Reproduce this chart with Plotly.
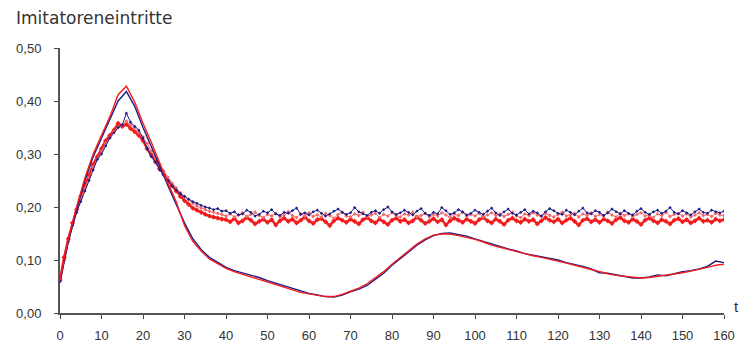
import plotly.graph_objects as go

# Time axis
t_fine = list(range(0, 161))          # step 1
t_coarse = list(range(0, 161, 2))     # step 2

# Scenario A: strong first wave, decay, second wave (step 2)
a_blue = [0.058, 0.135, 0.195, 0.250, 0.295, 0.330, 0.365, 0.400, 0.418, 0.390,
          0.350, 0.315, 0.278, 0.240, 0.205, 0.170, 0.140, 0.120, 0.105, 0.095,
          0.086, 0.080, 0.076, 0.071, 0.067, 0.061, 0.056, 0.051, 0.046, 0.041,
          0.037, 0.034, 0.031, 0.030, 0.034, 0.040, 0.045, 0.052, 0.063, 0.075,
          0.090, 0.102, 0.115, 0.128, 0.138, 0.146, 0.150, 0.151, 0.148, 0.145,
          0.140, 0.135, 0.130, 0.125, 0.121, 0.117, 0.112, 0.109, 0.106, 0.104,
          0.100, 0.095, 0.092, 0.088, 0.083, 0.076, 0.075, 0.072, 0.070, 0.066,
          0.066, 0.068, 0.072, 0.070, 0.074, 0.078, 0.080, 0.083, 0.088, 0.098,
          0.095]
a_red = [0.062, 0.140, 0.200, 0.255, 0.300, 0.335, 0.370, 0.412, 0.428, 0.398,
         0.358, 0.322, 0.283, 0.245, 0.210, 0.165, 0.135, 0.117, 0.102, 0.093,
         0.084, 0.078, 0.073, 0.069, 0.064, 0.058, 0.053, 0.048, 0.044, 0.039,
         0.036, 0.033, 0.031, 0.031, 0.035, 0.041, 0.047, 0.055, 0.066, 0.078,
         0.092, 0.105, 0.118, 0.130, 0.140, 0.147, 0.149, 0.149, 0.146, 0.143,
         0.139, 0.134, 0.128, 0.124, 0.120, 0.115, 0.111, 0.108, 0.105, 0.102,
         0.098, 0.094, 0.090, 0.086, 0.081, 0.077, 0.074, 0.071, 0.069, 0.067,
         0.066, 0.067, 0.069, 0.071, 0.073, 0.076, 0.079, 0.082, 0.086, 0.090,
         0.092]

# Scenario B: first wave settling on a plateau (step 1)
b_blue = [0.060, 0.100, 0.135, 0.165, 0.190, 0.210, 0.230, 0.250, 0.270, 0.290,
          0.300, 0.315, 0.330, 0.340, 0.350, 0.355, 0.377, 0.360, 0.352, 0.345,
          0.330, 0.310, 0.295, 0.285, 0.270, 0.260, 0.250, 0.240, 0.232, 0.225,
          0.220, 0.215, 0.210, 0.207, 0.203, 0.200, 0.198, 0.195, 0.197, 0.192,
          0.193, 0.188, 0.191, 0.185, 0.187, 0.194, 0.190, 0.183, 0.186, 0.192,
          0.189, 0.195, 0.187, 0.184, 0.190, 0.188, 0.193, 0.198, 0.186, 0.189,
          0.185, 0.191, 0.194, 0.188, 0.183, 0.187, 0.192, 0.196, 0.190, 0.186,
          0.189, 0.199, 0.191, 0.187, 0.184, 0.190, 0.193, 0.188, 0.195, 0.200,
          0.191, 0.186, 0.189, 0.194, 0.190, 0.185, 0.192, 0.197, 0.188, 0.184,
          0.190, 0.187, 0.199, 0.193, 0.186, 0.189, 0.195, 0.191, 0.185, 0.188,
          0.194, 0.190, 0.186, 0.192, 0.198, 0.189, 0.184, 0.191, 0.196, 0.188,
          0.185, 0.190, 0.195, 0.187, 0.192, 0.189, 0.183, 0.191, 0.197, 0.193,
          0.188, 0.186, 0.194, 0.190, 0.185, 0.192, 0.198, 0.189, 0.187, 0.193,
          0.190, 0.184, 0.189, 0.196, 0.191, 0.187, 0.193, 0.188, 0.185, 0.192,
          0.197, 0.190, 0.186, 0.191, 0.194, 0.188, 0.192, 0.199, 0.190, 0.187,
          0.193, 0.189, 0.185, 0.191, 0.196, 0.190, 0.188, 0.194, 0.191, 0.189,
          0.192]
b_red = [0.062, 0.105, 0.140, 0.170, 0.195, 0.220, 0.240, 0.260, 0.280, 0.295,
         0.310, 0.325, 0.335, 0.345, 0.358, 0.352, 0.356, 0.348, 0.342, 0.335,
         0.325, 0.310, 0.298, 0.285, 0.272, 0.262, 0.250, 0.240, 0.230, 0.220,
         0.212, 0.205, 0.198, 0.194, 0.190, 0.186, 0.183, 0.181, 0.179, 0.177,
         0.176, 0.172, 0.178, 0.170, 0.174, 0.180, 0.175, 0.168, 0.173, 0.177,
         0.171, 0.176, 0.166, 0.174, 0.179, 0.173, 0.177, 0.170, 0.175, 0.181,
         0.174, 0.169, 0.176, 0.178, 0.172, 0.165, 0.174, 0.179, 0.175, 0.171,
         0.177, 0.173, 0.168, 0.176, 0.180, 0.174, 0.170, 0.177, 0.172, 0.167,
         0.175, 0.179, 0.173, 0.176, 0.170, 0.174, 0.181, 0.175, 0.169, 0.173,
         0.178, 0.172, 0.176, 0.166, 0.174, 0.179, 0.175, 0.171, 0.177, 0.173,
         0.169, 0.176, 0.180, 0.174, 0.170, 0.177, 0.173, 0.167, 0.175, 0.179,
         0.174, 0.171, 0.177, 0.173, 0.176, 0.168, 0.174, 0.180, 0.175, 0.172,
         0.177, 0.170, 0.175, 0.179, 0.173, 0.166, 0.175, 0.178, 0.172, 0.176,
         0.171, 0.177, 0.174, 0.169, 0.176, 0.180, 0.174, 0.171, 0.177, 0.173,
         0.167, 0.175, 0.179, 0.174, 0.170, 0.176, 0.173, 0.168, 0.175, 0.178,
         0.172, 0.176, 0.170, 0.174, 0.179, 0.173, 0.175, 0.171, 0.177, 0.174,
         0.176]
b_pink = [0.060, 0.100, 0.135, 0.165, 0.190, 0.215, 0.235, 0.255, 0.275, 0.290,
          0.305, 0.320, 0.330, 0.342, 0.350, 0.355, 0.362, 0.355, 0.350, 0.340,
          0.332, 0.320, 0.305, 0.292, 0.280, 0.268, 0.256, 0.245, 0.236, 0.227,
          0.220, 0.213, 0.207, 0.202, 0.198, 0.195, 0.192, 0.190, 0.188, 0.186,
          0.183, 0.187, 0.181, 0.185, 0.189, 0.182, 0.186, 0.190, 0.184, 0.180,
          0.186, 0.183, 0.188, 0.181, 0.185, 0.191, 0.184, 0.180, 0.187, 0.183,
          0.189, 0.182, 0.185, 0.181, 0.188, 0.184, 0.179, 0.186, 0.190, 0.183,
          0.181, 0.187, 0.184, 0.190, 0.182, 0.185, 0.188, 0.180, 0.186, 0.183,
          0.189, 0.184, 0.181, 0.187, 0.185, 0.190, 0.182, 0.184, 0.188, 0.181,
          0.186, 0.183, 0.189, 0.185, 0.180, 0.187, 0.184, 0.190, 0.182, 0.186,
          0.183, 0.188, 0.181, 0.185, 0.189, 0.184, 0.187, 0.182, 0.186, 0.190,
          0.183, 0.180, 0.187, 0.184, 0.189, 0.185, 0.182, 0.188, 0.184, 0.181,
          0.186, 0.190, 0.183, 0.185, 0.188, 0.181, 0.187, 0.184, 0.189, 0.182,
          0.186, 0.183, 0.190, 0.185, 0.181, 0.188, 0.184, 0.187, 0.182, 0.186,
          0.189, 0.183, 0.185, 0.180, 0.187, 0.184, 0.190, 0.182, 0.186, 0.188,
          0.183, 0.187, 0.181, 0.185, 0.189, 0.184, 0.186, 0.182, 0.188, 0.185,
          0.184]

y_ticks = [0.0, 0.1, 0.2, 0.3, 0.4, 0.5]
x_ticks = list(range(0, 161, 10))

BLUE = "#1c1c86"
RED = "#f21c1c"
PINK = "#f56a6a"
FONT = "Liberation Sans, Arial, sans-serif"
TITLE_FONT = "DejaVu Sans, sans-serif"

fig = go.Figure()

fig.add_trace(go.Scatter(x=t_fine, y=b_red, mode="lines+markers",
                         line=dict(color=RED, width=2.4),
                         marker=dict(color=RED, size=4, symbol="diamond")))
fig.add_trace(go.Scatter(x=t_fine, y=b_pink, mode="lines+markers",
                         line=dict(color=PINK, width=1),
                         marker=dict(color=PINK, size=3, symbol="diamond")))
fig.add_trace(go.Scatter(x=t_fine, y=b_blue, mode="lines+markers",
                         line=dict(color=BLUE, width=1),
                         marker=dict(color=BLUE, size=2.5, symbol="diamond")))
fig.add_trace(go.Scatter(x=t_coarse, y=a_blue, mode="lines",
                         line=dict(color=BLUE, width=1.4)))
fig.add_trace(go.Scatter(x=t_coarse, y=a_red, mode="lines",
                         line=dict(color=RED, width=1.4)))

fig.update_layout(
    width=743, height=345,
    margin=dict(l=60, r=19, t=48, b=32),
    paper_bgcolor="white", plot_bgcolor="white",
    showlegend=False,
    separators=",.",
    font=dict(family=FONT, size=13, color="#333333"),
    xaxis=dict(range=[0, 160], tickvals=x_ticks, ticks="outside", ticklen=4,
               tickcolor="#444", showline=True, linecolor="#555", linewidth=2,
               showgrid=False, zeroline=False, ticklabelstandoff=5,
               automargin=False),
    yaxis=dict(range=[0, 0.5], tickvals=y_ticks, tickformat=".2f",
               ticks="outside", ticklen=4, tickcolor="#444",
               showline=True, linecolor="#555", linewidth=2,
               showgrid=False, zeroline=False, ticklabelstandoff=10,
               automargin=False),
    annotations=[
        dict(text="Imitatoreneintritte", xref="paper", yref="paper",
             x=-0.069, y=1.0, xanchor="left", yanchor="bottom", yshift=18,
             showarrow=False, font=dict(family=TITLE_FONT, size=17, color="#333")),
        dict(text="t", xref="paper", yref="paper", x=1.0, y=0.0,
             xanchor="left", yanchor="bottom", xshift=8, yshift=-4,
             showarrow=False, font=dict(family=FONT, size=15, color="#333")),
    ],
)

fig.write_html("out.html")
